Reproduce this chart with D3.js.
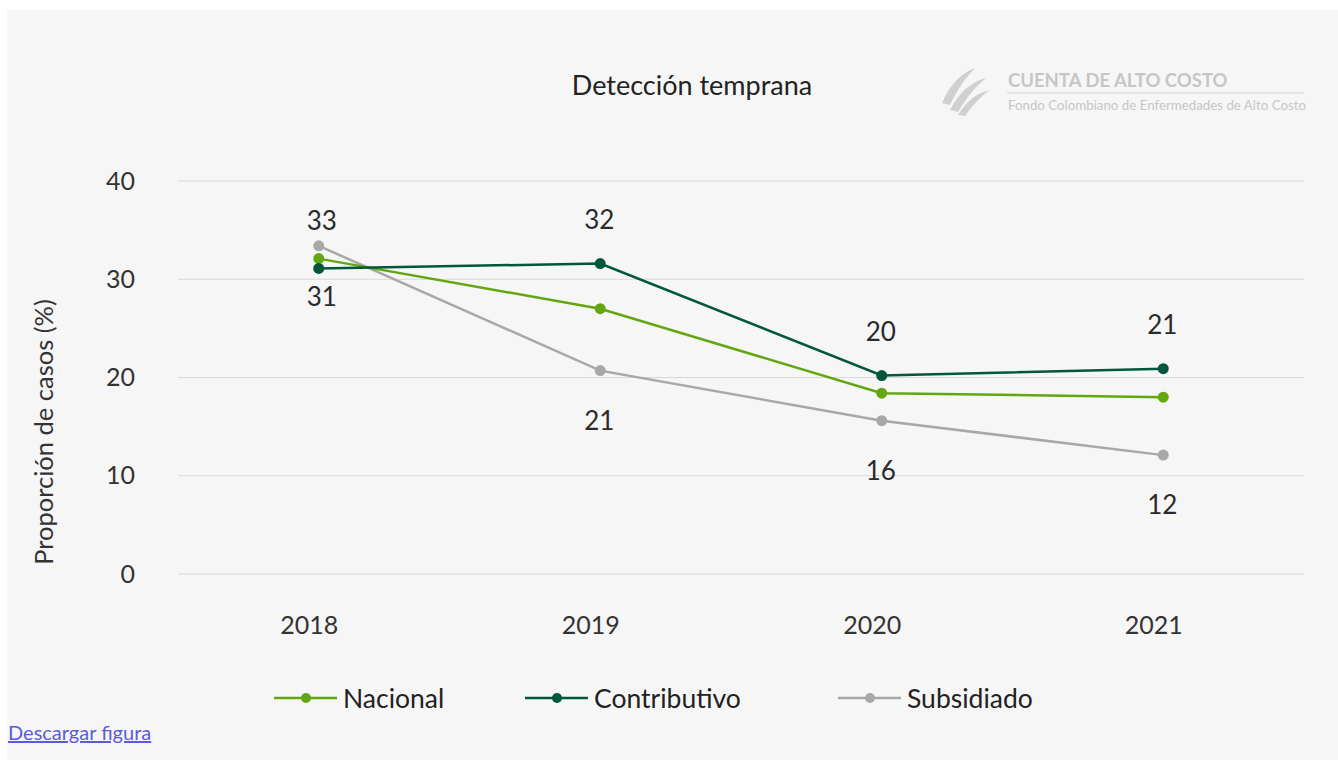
<!DOCTYPE html>
<html>
<head>
<meta charset="utf-8">
<script src="https://cdn.jsdelivr.net/npm/d3@7"></script>
<style>
  body { margin: 0; background: #fff; font-family: Lato, "Noto Sans", sans-serif; }
  #wrap { position: relative; width: 1338px; height: 760px; }
  #dl { position: absolute; left: 8px; top: 720px; font-size: 20px; color: #5b5be0; text-decoration: underline; }
</style>
</head>
<body>
<div id="wrap">
  <div class="chart"></div>
  <a id="dl" href="#">Descargar figura</a>
</div>
<script>
// data
var years = ["2018", "2019", "2020", "2021"];
var nacional = [32.1, 27.0, 18.4, 18.0];
var contributivo = [31.1, 31.6, 20.2, 20.9];
var subsidiado = [33.4, 20.7, 15.6, 12.1];
var yTicks = [0, 10, 20, 30, 40];
var seriesNames = ["Nacional", "Contributivo", "Subsidiado"];
// which labels are shown and where (a = above, b = below)
var contribLabelPos = ["b", "a", "a", "a"];
var subsidLabelPos = ["a", "b", "b", "b"];

var W = 1338, H = 760;
var margin = {top: 181, right: 34, bottom: 186, left: 178},
    width = W - margin.left - margin.right,
    height = H - margin.top - margin.bottom;

var colors = {"Nacional": "#62a70f", "Contributivo": "#00573d", "Subsidiado": "#a8a8a8"};
var font = "Lato, 'Noto Sans', sans-serif";

var svg = d3.select(".chart").append("svg")
    .attr("width", W)
    .attr("height", H);

svg.append("rect")
    .attr("x", 7).attr("y", 10)
    .attr("width", W - 7).attr("height", H - 10)
    .attr("fill", "#f6f6f6");

// title
svg.append("text")
    .attr("x", 692).attr("y", 95)
    .attr("text-anchor", "middle")
    .attr("font-size", 27)
    .attr("fill", "#222")
    .text("Detección temprana");

// logo
var logo = svg.append("g").attr("fill", "#d0d0d0");
logo.append("path").attr("d", "M942,103 C950,84 962,72 976,68 C968,74 958,88 950,105 Z");
logo.append("path").attr("d", "M950,110 C958,94 970,82 986,78 C976,86 966,98 958,112 Z");
logo.append("path").attr("d", "M958,115 C966,102 976,93 990,90 C980,97 972,106 965,116 Z");
logo.append("text")
    .attr("x", 1008).attr("y", 87)
    .attr("font-size", 18.5).attr("font-weight", "bold")
    .attr("fill", "#c6c6c6")
    .text("CUENTA DE ALTO COSTO");
logo.append("line")
    .attr("x1", 1007).attr("x2", 1304).attr("y1", 93).attr("y2", 93)
    .attr("stroke", "#d0d0d0").attr("stroke-width", 1.2);
logo.append("text")
    .attr("x", 1008).attr("y", 110)
    .attr("font-size", 13.3)
    .attr("fill", "#c6c6c6")
    .text("Fondo Colombiano de Enfermedades de Alto Costo");

var g = svg.append("g")
    .attr("transform", "translate(" + margin.left + "," + margin.top + ")");

var xScale = d3.scalePoint()
    .domain(years)
    .range([0, width])
    .padding(0.5);

var yScale = d3.scaleLinear()
    .domain([0, 40])
    .range([height, 0]);

// grid
g.selectAll(".grid")
    .data(yTicks)
    .enter().append("line")
    .attr("x1", 0).attr("x2", width)
    .attr("y1", d => yScale(d)).attr("y2", d => yScale(d))
    .attr("stroke", "#d9d9d9").attr("stroke-width", 1);

var yAxis = d3.axisLeft(yScale).tickValues(yTicks).tickSize(0).tickPadding(43);
var ya = g.append("g").call(yAxis);
ya.select(".domain").remove();
ya.selectAll("text").attr("font-size", 25).attr("fill", "#333").attr("font-family", font);

var xAxis = d3.axisBottom(xScale).tickSize(0).tickPadding(42);
var xa = g.append("g").attr("transform", "translate(0," + height + ")").call(xAxis);
xa.select(".domain").remove();
xa.selectAll("text").attr("font-size", 25).attr("fill", "#333").attr("font-family", font)
    .attr("dx", -10);

// y title
svg.append("text")
    .attr("transform", "translate(53,432) rotate(-90)")
    .attr("text-anchor", "middle")
    .attr("font-size", 25.5)
    .attr("fill", "#333")
    .text("Proporción de casos (%)");

var series = [
  {name: "Nacional", values: nacional},
  {name: "Contributivo", values: contributivo},
  {name: "Subsidiado", values: subsidiado}
];

var line = d3.line()
    .x((d, i) => xScale(years[i]))
    .y(d => yScale(d));

// draw subsidiado first, then nacional, contributivo on top
[series[2], series[0], series[1]].forEach(function(s) {
  g.append("path")
    .datum(s.values)
    .attr("d", line)
    .attr("fill", "none")
    .attr("stroke", colors[s.name])
    .attr("stroke-width", 2.5);
  g.selectAll(".dot-" + s.name)
    .data(s.values)
    .enter().append("circle")
    .attr("cx", (d, i) => xScale(years[i]))
    .attr("cy", d => yScale(d))
    .attr("r", 5.5)
    .attr("fill", colors[s.name]);
});

// data labels
function labels(vals, pos) {
  vals.forEach(function(v, i) {
    if (!pos[i]) return;
    var first = i === 0;
    var off = pos[i] === "a" ? (first ? -25 : -44) : (first ? 28 : 50);
    g.append("text")
      .attr("x", xScale(years[i]) + (first ? 3 : -1))
      .attr("y", yScale(v) + off)
      .attr("dy", "0.36em")
      .attr("text-anchor", "middle")
      .attr("font-size", 26)
      .attr("fill", "#2a2a2a")
      .text(d3.format(".0f")(v));
  });
}
labels(contributivo, contribLabelPos);
labels(subsidiado, subsidLabelPos);

// legend
var legendX = [274, 525, 838];
var leg = svg.append("g").attr("transform", "translate(0,698)");
seriesNames.forEach(function(n, i) {
  var lg = leg.append("g").attr("transform", "translate(" + legendX[i] + ",0)");
  lg.append("line").attr("x1", 0).attr("x2", 63).attr("stroke", colors[n]).attr("stroke-width", 2.5);
  lg.append("circle").attr("cx", 32).attr("r", 5).attr("fill", colors[n]);
  lg.append("text").attr("x", 69).attr("dy", "0.36em")
    .attr("font-size", 26.5).attr("fill", "#222").text(n);
});
</script>
</body>
</html>
